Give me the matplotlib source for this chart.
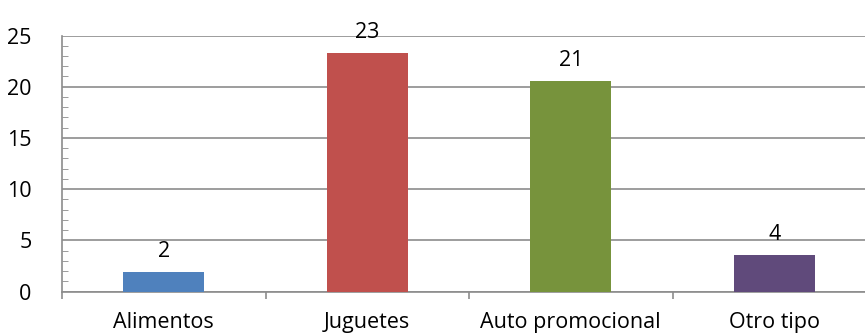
import matplotlib

matplotlib.use("Agg")
import matplotlib.pyplot as plt
from matplotlib.ticker import MultipleLocator

categories = ["Alimentos", "Juguetes", "Auto promocional", "Otro tipo"]
values = [1.9, 23.3, 20.6, 3.6]
colors = ["#4F81BD", "#C0504D", "#77933C", "#604A7B"]
yticks = [0, 5, 10, 15, 20, 25]

plt.rcParams["font.family"] = ["Open Sans", "DejaVu Sans"]

fig = plt.figure(figsize=(8.65, 3.36), dpi=100)
ax = fig.add_axes([62 / 865, 0.1324, 814 / 865, 0.7619])

x = list(range(len(categories)))
bars = ax.bar(x, values, width=0.40, color=colors, zorder=3)
for xi, v in zip(x, values):
    ax.annotate(str(round(v)), (xi, v), xytext=(0, 7), textcoords="offset points",
                ha="center", va="bottom", fontsize=15.5)

ax.set_xlim(-0.5, len(categories) - 0.5)
ax.set_ylim(0, 25)
ax.set_yticks(yticks)
ax.yaxis.set_minor_locator(MultipleLocator(1))
ax.grid(True, axis="y", color="#8C8C8C", linewidth=1.2, zorder=0)

ax.set_xticks(x)
ax.set_xticklabels(categories, fontsize=15.5)
ax.set_xticks([i - 0.5 for i in x], minor=True)
ax.tick_params(axis="x", which="major", length=0, pad=15)
ax.tick_params(axis="x", which="minor", length=5, direction="out", color="#8C8C8C", width=1.2)
ax.tick_params(axis="y", which="major", length=0, pad=22, labelsize=15.5)
ax.tick_params(axis="y", which="minor", length=4, direction="in", color="#8C8C8C")

for side in ("top", "right"):
    ax.spines[side].set_visible(False)
for side in ("left", "bottom"):
    ax.spines[side].set_color("#8C8C8C")
    ax.spines[side].set_linewidth(1.2)

fig.savefig("out.png", dpi=100)
